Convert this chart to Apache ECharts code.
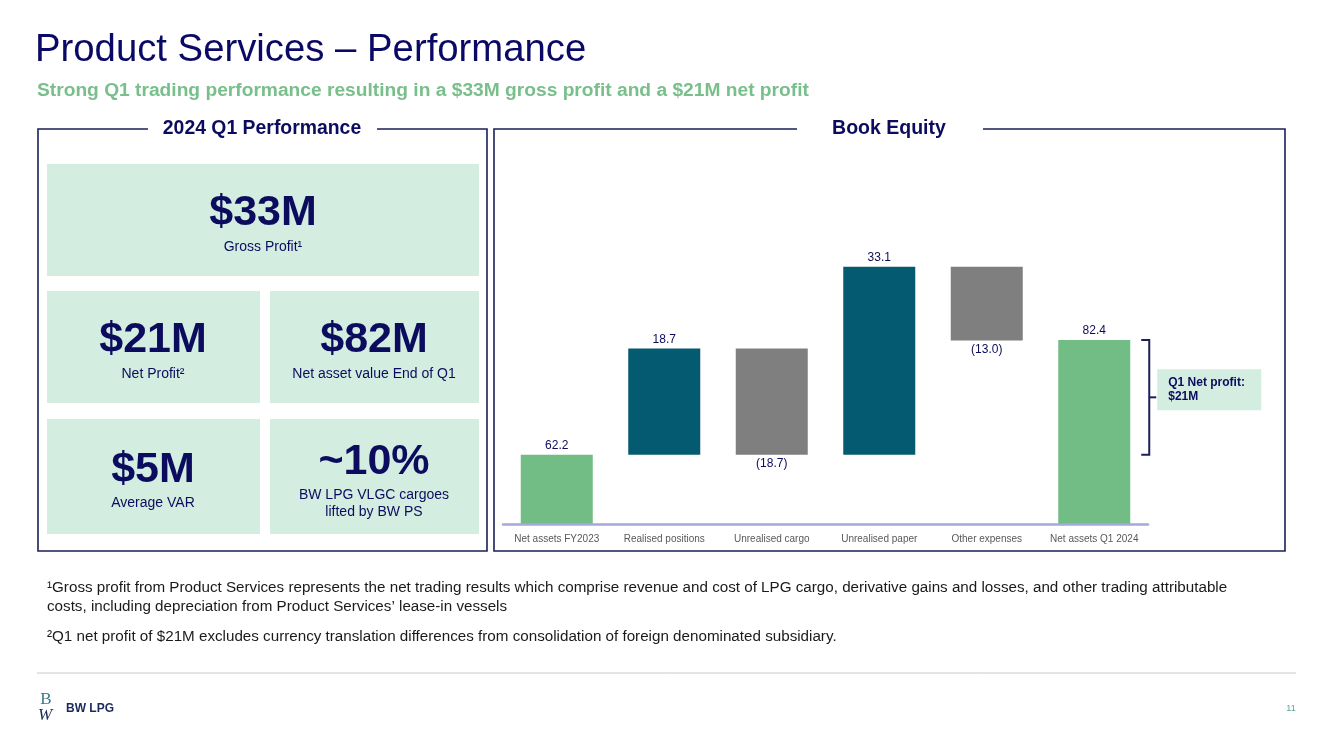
<!DOCTYPE html>
<html><head><meta charset="utf-8">
<script src="https://cdn.jsdelivr.net/npm/echarts@6/dist/echarts.min.js"></script>
<style>html,body{margin:0;padding:0;background:#fff;}#c{width:1333px;height:749px;}</style>
</head><body><div id="c"></div>
<script>
// ---- Data ----
var categories = ['Net assets FY2023','Realised positions','Unrealised cargo','Unrealised paper','Other expenses','Net assets Q1 2024'];
var startValue = 62.2;
var deltas = [18.7, -18.7, 33.1, -13.0];
var endValue = 82.4;
var yMin = 50, yMax = 100;

// derived waterfall pieces
var signed = [startValue].concat(deltas).concat([endValue]);
var baseVals = [], heightVals = [];
(function(){
  var run = startValue;
  baseVals.push(0); heightVals.push(startValue);
  deltas.forEach(function(d){
    if (d >= 0) { baseVals.push(run); heightVals.push(d); }
    else { baseVals.push(run + d); heightVals.push(-d); }
    run += d;
  });
  baseVals.push(0); heightVals.push(endValue);
})();
var kinds = ['total','up','down','up','down','total'];
var colorOf = {total:'#72bd85', up:'#045a70', down:'#7f7f7f'};

var NAVY = '#0c0c5e';
var FONT = '"Liberation Sans", Arial, sans-serif';

var chart = echarts.init(document.getElementById('c'), null, {renderer:'canvas'});

function txt(x, y, text, size, opts) {
  opts = opts || {};
  return {type:'text', x:x, y:y, z:20, style:{text:text, fontSize:size, fontFamily:opts.family||FONT,
    fontWeight:opts.bold?'bold':'normal', fontStyle:opts.italic?'italic':'normal', fill:opts.fill||NAVY, align:opts.align||'left', verticalAlign:'middle',
    lineHeight:opts.lh}};
}
function box(x, y, w, h, fill) {
  return {type:'rect', z:1, shape:{x:x, y:y, width:w, height:h}, style:{fill:fill||'#d3ede0'}};
}
function panel(x1, y1, x2, y2, g1, g2) {
  return {type:'polyline', z:2, shape:{points:[[g2,y1],[x2,y1],[x2,y2],[x1,y2],[x1,y1],[g1,y1]]},
    style:{stroke:'#1c1f5a', lineWidth:1.6, fill:null}};
}

var graphics = [
  txt(35, 50, 'Product Services \u2013 Performance', 38.3, {fill:'#0a0a66'}),
  txt(37, 91, 'Strong Q1 trading performance resulting in a $33M gross profit and a $21M net profit', 19.2, {bold:true, fill:'#79bf8b'}),
  panel(38, 129, 487, 551, 148, 377),
  txt(262, 129, '2024 Q1 Performance', 19.4, {bold:true, align:'center'}),
  panel(494, 129, 1285, 551, 797, 983),
  txt(889, 129, 'Book Equity', 19.5, {bold:true, align:'center'}),
  box(47, 164, 432, 112), box(47, 291, 213, 112), box(270, 291, 209, 112),
  box(47, 419, 213, 115), box(270, 419, 209, 115),
  txt(263, 213, '$33M', 43, {bold:true, align:'center'}),
  txt(263, 247, 'Gross Profit\u00b9', 14, {align:'center'}),
  txt(153, 340, '$21M', 43, {bold:true, align:'center'}),
  txt(153, 374, 'Net Profit\u00b2', 14, {align:'center'}),
  txt(374, 340, '$82M', 43, {bold:true, align:'center'}),
  txt(374, 374, 'Net asset value End of Q1', 14, {align:'center'}),
  txt(153, 470, '$5M', 43, {bold:true, align:'center'}),
  txt(153, 503, 'Average VAR', 14, {align:'center'}),
  txt(374, 462, '~10%', 43, {bold:true, align:'center'}),
  txt(374, 504, 'BW LPG VLGC cargoes\nlifted by BW PS', 14, {align:'center', lh:17}),
  txt(47, 597.5, '\u00b9Gross profit from Product Services represents the net trading results which comprise revenue and cost of LPG cargo, derivative gains and losses, and other trading attributable\ncosts, including depreciation from Product Services\u2019 lease-in vessels', 15.2, {fill:'#1a1a1a', lh:19.5}),
  txt(47, 637, '\u00b2Q1 net profit of $21M excludes currency translation differences from consolidation of foreign denominated subsidiary.', 15.2, {fill:'#1a1a1a'}),
  {type:'line', z:2, shape:{x1:37, y1:673, x2:1296, y2:673}, style:{stroke:'#c8c8c8', lineWidth:1}},
  txt(46, 700, 'B', 17, {fill:'#3a7a8e', align:'center', family:'"Liberation Serif", serif'}),
  txt(45, 716, 'W', 17, {fill:'#1c2a5a', align:'center', italic:true, family:'"Liberation Serif", serif'}),
  txt(66, 709, 'BW LPG', 12, {bold:true, fill:'#1c2a5a', family:'"Liberation Sans Narrow", "Liberation Sans", sans-serif'}),
  txt(1291, 709, '11', 9, {fill:'#5aa59a', align:'center'})
];

var option = {
  animation:false,
  backgroundColor:'#ffffff',
  grid:{left:503, width:645, top:240, height:284, containLabel:false},
  xAxis:{type:'category', data:categories, z:10,
    axisLine:{show:true, lineStyle:{color:'#a6a8da', width:2.5}},
    axisTick:{show:false},
    axisLabel:{color:'#595959', fontSize:10, fontFamily:FONT, margin:10, interval:0}},
  yAxis:{type:'value', min:yMin, max:yMax, show:false, splitLine:{show:false}},
  series:[
    {type:'bar', stack:'wf', barWidth:72, silent:true, itemStyle:{color:'transparent'}, data:baseVals},
    {type:'bar', stack:'wf', barWidth:72,
      data:heightVals.map(function(v,i){
        var neg = signed[i] < 0;
        return {value:v, itemStyle:{color:colorOf[kinds[i]]},
          label:{show:true, position: neg ? 'bottom' : 'top', distance:3,
            formatter: neg ? '(' + Math.abs(signed[i]).toFixed(1) + ')' : signed[i].toFixed(1)}};
      }),
      label:{color:NAVY, fontSize:12, fontFamily:FONT}}
  ],
  graphic:graphics
};
chart.setOption(option);

// bracket + annotation tied to data values
var xEnd = chart.convertToPixel({xAxisIndex:0}, categories[5]);
var yTop = chart.convertToPixel({yAxisIndex:0}, endValue);
var yBot = chart.convertToPixel({yAxisIndex:0}, startValue);
var bx = xEnd + 36 + 19, yMid = (yTop + yBot) / 2;
graphics.push({type:'polyline', z:5, shape:{points:[[bx-8,yTop],[bx,yTop],[bx,yBot],[bx-8,yBot]]}, style:{stroke:'#1c1f5a', lineWidth:2, fill:null}});
graphics.push({type:'line', z:5, shape:{x1:bx, y1:yMid, x2:bx+7, y2:yMid}, style:{stroke:'#1c1f5a', lineWidth:2}});
graphics.push(box(bx+8, yMid-28, 104, 41));
graphics.push(txt(bx+19, yMid-8, 'Q1 Net profit:\n$21M', 12, {bold:true, lh:14}));
chart.setOption({graphic:graphics});
</script></body></html>
